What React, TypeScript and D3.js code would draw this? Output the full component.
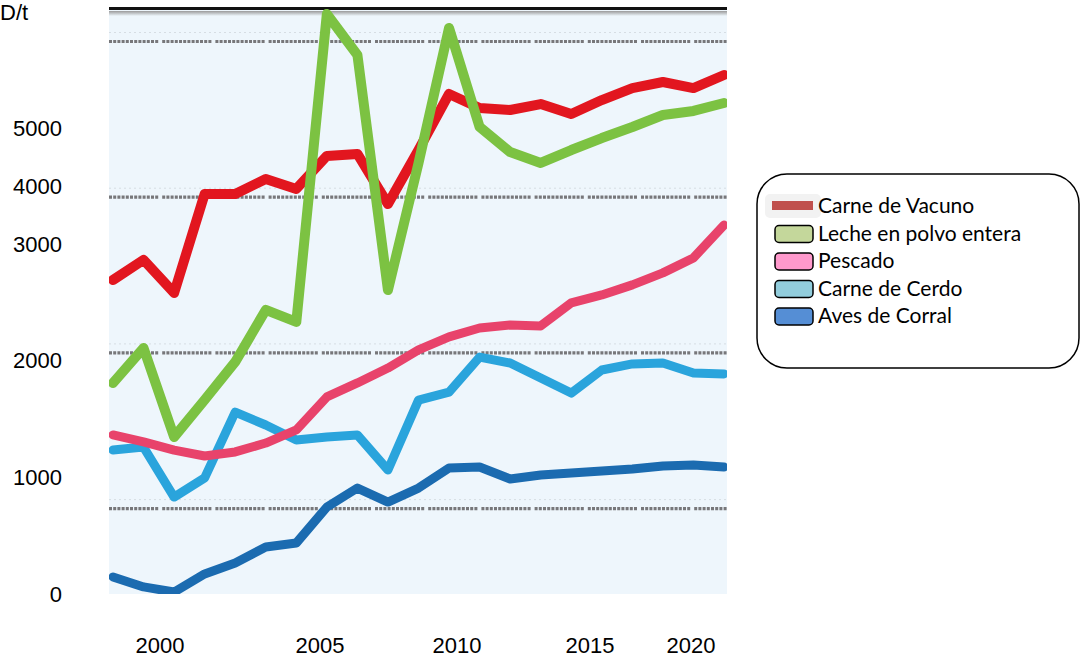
import React from "react";
import * as d3 from "d3";

// Annual prices, USD per tonne, 2000–2020
const years = d3.range(2000, 2021);

const carneVacuno = [2468, 2597, 2385, 3021, 3021, 3117, 3053, 3265, 3278, 2956, 3303, 3663, 3573, 3560, 3598, 3534, 3624, 3701, 3740, 3701, 3785];
const lechePolvo = [1807, 2031, 1460, 1698, 1942, 2276, 2199, 4177, 3914, 2404, 3219, 4087, 3451, 3290, 3220, 3303, 3380, 3451, 3528, 3554, 3605];
const pescado = [1473, 1428, 1376, 1338, 1364, 1421, 1505, 1717, 1807, 1903, 2019, 2103, 2160, 2179, 2173, 2321, 2372, 2437, 2514, 2610, 2821];
const carneCerdo = [1376, 1395, 1074, 1197, 1620, 1537, 1441, 1460, 1473, 1248, 1697, 1748, 1973, 1935, 1839, 1742, 1890, 1929, 1935, 1871, 1865];
const avesCorral = [561, 497, 464, 580, 651, 753, 779, 1010, 1132, 1042, 1132, 1261, 1267, 1190, 1216, 1229, 1241, 1254, 1274, 1280, 1267];

const gridValues = [1000, 2000, 3000, 4000];
const yTickLabels = [0, 1000, 2000, 3000, 4000, 5000];
const xTickLabels = [2000, 2005, 2010, 2015, 2020];
const unitLabel = "D/t";

const seriesNames = ["Carne de Vacuno", "Leche en polvo entera", "Pescado", "Carne de Cerdo", "Aves de Corral"];
const seriesValues = [carneVacuno, lechePolvo, pescado, carneCerdo, avesCorral];
const lineColors = ["#e2161f", "#7cc242", "#e8436b", "#2aa4dc", "#1b6bb0"];
const swatchColors = ["#c0504d", "#c4d79b", "#ff99cc", "#92cddc", "#558ed5"];

// drawing order: back to front
const drawOrder = [3, 4, 2, 0, 1];

export default function App() {
  const plot = { left: 109, right: 727, top: 9, bottom: 594 };

  const x = d3.scaleLinear().domain([2000, 2020]).range([113, 724]);
  const y = d3.scaleLinear().domain([0, 4000]).range([664.3, 41.5]);

  // axis labels sit on their own (uneven) placement
  const yLabel = d3.scaleLinear().domain([0, 1000, 2000, 3000, 4000, 5000]).range([594, 477, 360, 244, 186, 128]);
  const xLabel = d3.scaleLinear().domain([2000, 2005, 2010, 2015, 2020]).range([160, 320, 457, 590, 691]);

  const line = d3
    .line<number>()
    .x((_, i) => x(years[i]))
    .y((v) => y(v))
    .curve(d3.curveLinear);

  const legendX = 757;
  const legendY = 174;
  const rowH = 27.5;

  return (
    <svg
      width={1081}
      height={665}
      style={{ position: "absolute", left: 0, top: 0, background: "#fff" }}
      fontFamily="'Liberation Sans', Arial, sans-serif"
    >
      <defs>
        <clipPath id="plotClip">
          <rect x={plot.left} y={plot.top} width={plot.right - plot.left} height={plot.bottom - plot.top} />
        </clipPath>
        <linearGradient id="topShade" x1="0" y1="0" x2="0" y2="1">
          <stop offset="0" stopColor="#9a9a9a" />
          <stop offset="1" stopColor="#eef6fc" />
        </linearGradient>
      </defs>

      {/* plot background */}
      <rect x={plot.left} y={plot.top} width={plot.right - plot.left} height={plot.bottom - plot.top} fill="#eef6fc" />
      <rect x={plot.left} y={plot.top + 2} width={plot.right - plot.left} height={5} fill="url(#topShade)" />
      <rect x={plot.left} y={plot.top - 2} width={plot.right - plot.left} height={3} fill="#111" />

      {/* gridlines */}
      {gridValues.map((g) => (
        <g key={g}>
          <line
            x1={plot.left}
            x2={plot.right}
            y1={y(g) - 9}
            y2={y(g) - 9}
            stroke="#d6dde3"
            strokeWidth={1}
            strokeDasharray="2,3"
          />
          <line
            x1={plot.left}
            x2={plot.right}
            y1={y(g)}
            y2={y(g)}
            stroke="#77777a"
            strokeWidth={3.2}
            strokeDasharray="3,1.2,3,1.2,3,1.2,3,1.2,3,1.2,3,1.2,3,1.2,3,1.2,3,1.2,3,1.2,3,1.2,3,4"
          />
        </g>
      ))}

      {/* series lines */}
      <g clipPath="url(#plotClip)">
        {drawOrder.map((si) => (
          <path
            key={si}
            d={line(seriesValues[si]) || ""}
            fill="none"
            stroke={lineColors[si]}
            strokeWidth={si === 0 || si === 1 ? 10 : 9}
            strokeLinejoin="round"
            strokeLinecap="round"
          />
        ))}
      </g>

      {/* y labels */}
      <text x={0} y={20} fontSize={22} fill="#000">
        {unitLabel}
      </text>
      {yTickLabels.map((t) => (
        <text key={t} x={62} y={yLabel(t)} fontSize={22} textAnchor="end" dominantBaseline="central" fill="#000">
          {t}
        </text>
      ))}

      {/* x labels */}
      {xTickLabels.map((t) => (
        <text key={t} x={xLabel(t)} y={653} fontSize={22} textAnchor="middle" fill="#000">
          {t}
        </text>
      ))}

      {/* legend */}
      <rect x={legendX} y={legendY} width={322} height={194} rx={30} ry={30} fill="#fff" stroke="#000" strokeWidth={1.5} />
      {seriesNames.map((name, i) => {
        const cy = legendY + 32 + i * rowH;
        return (
          <g key={name}>
            {i === 0 ? (
              <>
                <rect x={legendX + 8} y={cy - 12} width={56} height={24} rx={5} fill="#f2f2f2" />
                <rect x={legendX + 15} y={cy - 5} width={41} height={9} fill={swatchColors[i]} />
              </>
            ) : (
              <rect
                x={legendX + 18}
                y={cy - 8}
                width={38}
                height={17}
                rx={4}
                fill={swatchColors[i]}
                stroke="#000"
                strokeWidth={1.5}
              />
            )}
            <text x={legendX + 61} y={cy + 7} fontSize={21} fontFamily="Lato, 'Open Sans', sans-serif" fill="#000">
              {name}
            </text>
          </g>
        );
      })}
    </svg>
  );
}
